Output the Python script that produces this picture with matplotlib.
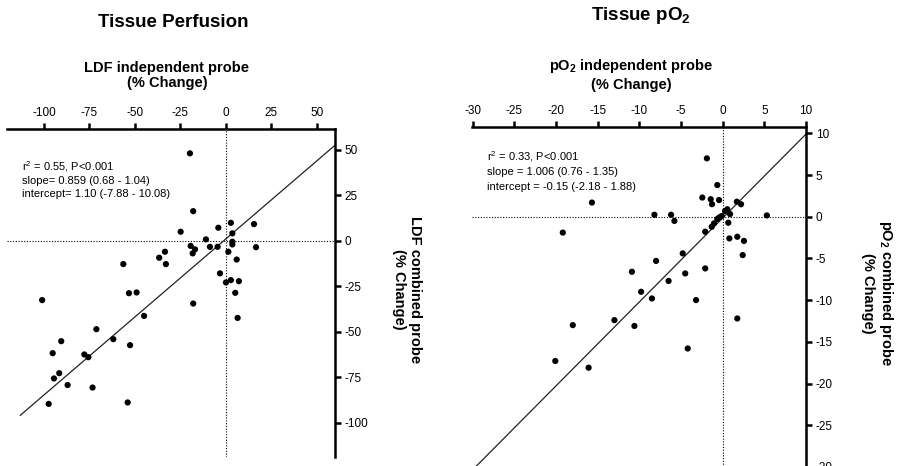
import matplotlib
matplotlib.use("Agg")
import matplotlib.pyplot as plt
import numpy as np

plt.rcParams['font.family'] = ['Liberation Sans', 'DejaVu Sans']
plt.rcParams['mathtext.default'] = 'regular'
plt.rcParams['axes.unicode_minus'] = False

# ---- Tissue perfusion (LDF), % change ----
ldf_indep = [-19.8, -18.0, -24.9, -4.2, 2.7, 15.4, 3.5, -11.0, -19.4, -17.0,
             -18.3, -8.8, -4.6, 3.5, 3.5, 16.5, 1.3, 5.9, -33.5, -36.7,
             -33.0, -56.4, -3.3, 0.0, 2.7, 7.1, 5.1, -18.0, 6.4, -53.3,
             -49.1, -45.0, -101.0, -71.2, -61.9, -90.5, -95.2, -77.8, -75.6, -52.7,
             -91.6, -94.5, -87.0, -73.3, -97.4, -54.0]
ldf_comb = [48.1, 16.3, 5.0, 7.2, 9.9, 9.2, 4.1, 0.8, -2.8, -4.7,
            -6.9, -3.3, -3.3, -0.5, -2.0, -3.5, -6.0, -10.3, -6.0, -9.3,
            -12.8, -12.8, -17.9, -22.9, -21.6, -22.2, -28.6, -34.5, -42.4, -28.8,
            -28.4, -41.3, -32.6, -48.6, -54.1, -55.2, -61.8, -62.5, -64.0, -57.4,
            -72.8, -75.7, -79.3, -80.7, -89.7, -88.9]
ldf_xticks = [-100, -75, -50, -25, 0, 25, 50]
ldf_yticks = [50, 25, 0, -25, -50, -75, -100]
ldf_slope, ldf_intercept = 0.859, 1.10
ldf_stats = ["r$^2$ = 0.55, P<0.001",
             "slope= 0.859 (0.68 - 1.04)",
             "intercept= 1.10 (-7.88 - 10.08)"]

# ---- Tissue pO2, % change ----
po2_indep = [-1.9, -0.65, -2.45, -1.44, -0.44, -1.28, 1.7, 2.2, -15.7, -8.2,
             -6.2, -5.8, 5.3, 0.55, 0.28, 0.88, -0.12, -0.4, -0.65, 0.67,
             -1.04, -1.32, -19.2, -2.1, 0.8, 1.75, 2.55, 2.4, -4.8, -8.0,
             -10.9, -4.5, -2.1, -6.5, -9.8, -8.5, -3.2, -13.0, -10.6, -18.0,
             1.75, -4.2, -20.1, -16.1]
po2_comb = [7.0, 3.8, 2.3, 2.1, 2.0, 1.5, 1.8, 1.5, 1.7, 0.24,
            0.24, -0.5, 0.16, 0.9, 0.68, 0.32, 0.08, -0.08, -0.28, -0.72,
            -0.8, -1.2, -1.9, -1.8, -2.6, -2.4, -2.9, -4.6, -4.4, -5.3,
            -6.6, -6.8, -6.2, -7.7, -9.0, -9.8, -10.0, -12.4, -13.1, -13.0,
            -12.2, -15.8, -17.3, -18.1]
po2_xticks = [-30, -25, -20, -15, -10, -5, 0, 5, 10]
po2_yticks = [10, 5, 0, -5, -10, -15, -20, -25, -30]
po2_slope, po2_intercept = 1.006, -0.15
po2_stats = ["r$^2$ = 0.33, P<0.001",
             "slope = 1.006 (0.76 - 1.35)",
             "intercept = -0.15 (-2.18 - 1.88)"]

W, H = 901, 466
fig = plt.figure(figsize=(W / 100, H / 100), dpi=100)


def axes_px(x0, y0, x1, y1):
    return fig.add_axes([x0 / W, 1 - y1 / H, (x1 - x0) / W, (y1 - y0) / H])


def ftext(x, y, s, **kw):
    fig.text(x / W, 1 - y / H, s, **kw)


def panel(ax, xs, ys, xlim, ylim, xticks, yticks, slope, intercept, x_start):
    ax.set_xlim(*xlim)
    ax.set_ylim(*ylim)
    ax.patch.set_visible(False)
    for s in ('left', 'bottom'):
        ax.spines[s].set_visible(False)
    for s in ('top', 'right'):
        ax.spines[s].set_linewidth(1.8)
    ax.xaxis.tick_top()
    ax.yaxis.tick_right()
    ax.set_xticks(xticks)
    ax.set_yticks(yticks)
    ax.tick_params(axis='both', direction='out', length=4, width=1.8,
                   labelsize=8.5, pad=3)
    ax.axvline(0, color='black', lw=0.8, ls=(0, (1, 1.5)), zorder=1)
    ax.axhline(0, color='black', lw=0.8, ls=(0, (1, 1.5)), zorder=1)
    xl = np.array([x_start, xlim[1]])
    ax.plot(xl, slope * xl + intercept, color='#222222', lw=0.9, zorder=2)
    ax.scatter(xs, ys, s=20, color='black', edgecolors='none', zorder=3)


ax1 = axes_px(7, 129, 335, 457)
panel(ax1, ldf_indep, ldf_comb, (-120.3, 59.9), (-118.9, 61.5),
      ldf_xticks, ldf_yticks, ldf_slope, ldf_intercept, -113)

ax2 = axes_px(472, 127, 806, 469.4)
panel(ax2, po2_indep, po2_comb, (-30.1, 10.0), (-30.3, 10.76),
      po2_xticks, po2_yticks, po2_slope, po2_intercept, -30.1)

# Titles
ftext(173, 27.3, "Tissue Perfusion", fontsize=13.5, fontweight='bold',
      ha='center', va='baseline')
ftext(641, 19.5, "Tissue pO$_2$", fontsize=13.5, fontweight='bold',
      ha='center', va='baseline')

# Top axis labels
ftext(167, 71.7, "LDF independent probe", fontsize=10.5, fontweight='bold',
      ha='center', va='baseline')
ftext(167, 87, "(% Change)", fontsize=10.5, fontweight='bold',
      ha='center', va='baseline')
ftext(631, 70, "pO$_2$ independent probe", fontsize=10.5, fontweight='bold',
      ha='center', va='baseline')
ftext(631, 89, "(% Change)", fontsize=10.5, fontweight='bold',
      ha='center', va='baseline')

# Right axis labels
ax1.text(1.22, 0.511, "LDF combined probe\n(% Change)", transform=ax1.transAxes,
         rotation=270, fontsize=10.5, fontweight='bold', ha='center',
         va='center', multialignment='center')
ax2.text(1.216, 0.514, "pO$_2$ combined probe\n(% Change)", transform=ax2.transAxes,
         rotation=270, fontsize=10.5, fontweight='bold', ha='center',
         va='center', multialignment='center')

# Regression statistics
for i, (s, yb) in enumerate(zip(ldf_stats, [170, 183.5, 197])):
    ftext(22, yb, s, fontsize=8, ha='left', va='baseline')
for i, (s, yb) in enumerate(zip(po2_stats, [160, 175, 189.5])):
    ftext(487, yb, s, fontsize=8, ha='left', va='baseline')

fig.savefig("out.png", dpi=100)
